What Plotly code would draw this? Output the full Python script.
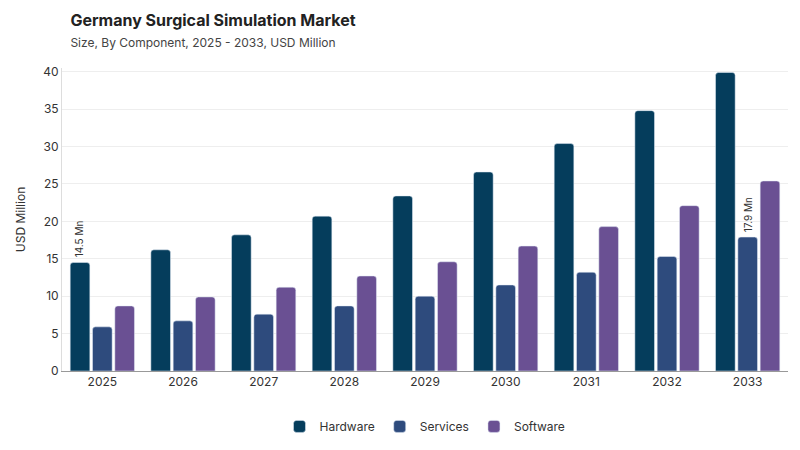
import plotly.graph_objects as go

years = ["2025", "2026", "2027", "2028", "2029", "2030", "2031", "2032", "2033"]
hardware = [14.5, 16.2, 18.2, 20.7, 23.4, 26.6, 30.4, 34.8, 39.9]
services = [5.9, 6.7, 7.6, 8.7, 10.0, 11.5, 13.2, 15.3, 17.9]
software = [8.7, 9.9, 11.2, 12.7, 14.6, 16.7, 19.3, 22.1, 25.4]

fig = go.Figure()
fig.add_trace(go.Bar(x=years, y=hardware, name="Hardware", marker=dict(color="#053d5c")))
fig.add_trace(go.Bar(x=years, y=services, name="Services", marker=dict(color="#2e4b7d")))
fig.add_trace(go.Bar(x=years, y=software, name="Software", marker=dict(color="#6a5093")))

# rotated value labels (category index positions)
fig.add_annotation(x=0, y=hardware[0], text="14.5 Mn", textangle=-90, showarrow=False,
                   xshift=-23, yanchor="bottom", yshift=3, font=dict(size=10, color="#333"))
fig.add_annotation(x=len(years) - 1, y=services[-1], text="17.9 Mn", textangle=-90, showarrow=False,
                   yanchor="bottom", yshift=3, font=dict(size=10, color="#333"))

fig.update_layout(
    width=800, height=450,
    font=dict(family="Inter", color="#333"),
    title=dict(text="<b>Germany Surgical Simulation Market</b><br><span style='font-size:12px;color:#444'>Size, By Component, 2025 - 2033, USD Million</span>",
               x=0.078, y=0.96, font=dict(size=16, color="#222")),
    plot_bgcolor="white", paper_bgcolor="white",
    barmode="group", bargap=0.17, bargroupgap=0.12, barcornerradius=3,
    margin=dict(l=54, r=20, t=60, b=87),
    xaxis=dict(type="category", showline=True, linecolor="#999", ticks="", tickfont=dict(size=12),
               automargin=False),
    yaxis=dict(title=dict(text="USD Million", font=dict(size=12)), range=[0, 40.5], dtick=5,
               gridcolor="#eeeeee", zeroline=False, tickfont=dict(size=12), ticks="", showline=True, linecolor="#ddd"),
    legend=dict(orientation="h", x=0.5, xanchor="center", y=-0.135, font=dict(size=12)),
)

fig.write_html("out.html")
